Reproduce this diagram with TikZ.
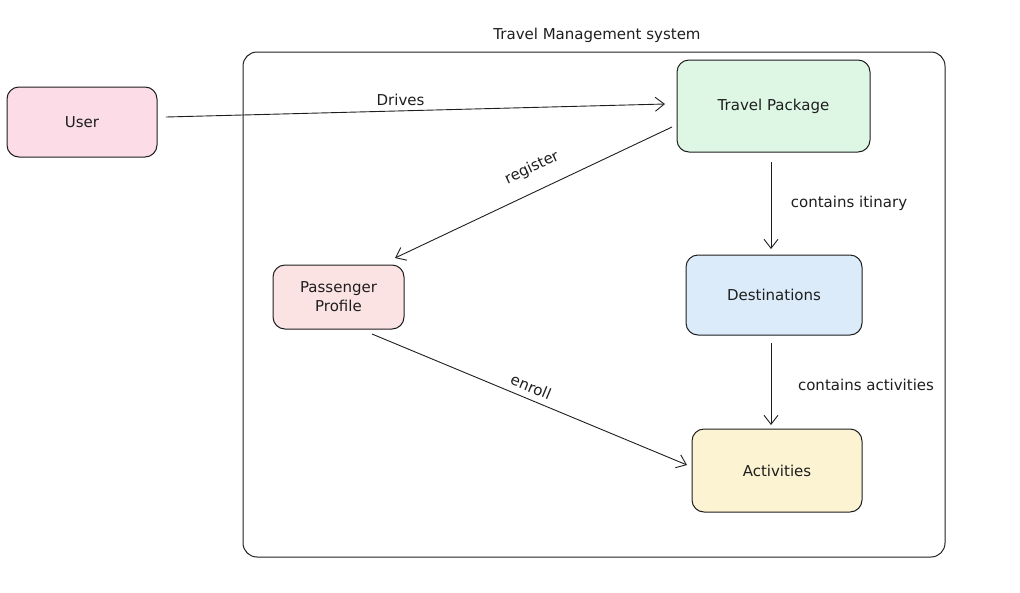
\documentclass[tikz,border=0pt]{standalone}
\usepackage{fontspec}
\setmainfont{DejaVu Sans}
\usetikzlibrary{arrows.meta}
\definecolor{pinkf}{HTML}{FCDCE6}
\definecolor{greenf}{HTML}{DDF7E4}
\definecolor{bluef}{HTML}{DCEBFA}
\definecolor{yellowf}{HTML}{FCF3D2}
\definecolor{rosef}{HTML}{FBE3E3}
\definecolor{ink}{HTML}{1E1E1E}
\tikzset{
  box/.style={draw=ink, line width=1pt, rounded corners=12pt, inner sep=0pt, align=center, font=\fontsize{15}{19}\selectfont, text=ink},
  conn/.style={draw=ink, line width=0.9pt, -{Straight Barb[length=9pt,width=14pt]}},
  lbl/.style={font=\fontsize{15}{18}\selectfont, text=ink, inner sep=1pt}
}
\begin{document}
\begin{tikzpicture}[x=1pt,y=-1pt]
\useasboundingbox (0,0) rectangle (1020,592);
\node[draw=ink, line width=1pt, rounded corners=14pt, minimum width=702pt, minimum height=505pt] (sys) at (594,304.5) {};
\node[lbl] (title) at (597,35) {Travel Management system};
\node[box, fill=pinkf, minimum width=150pt, minimum height=70pt] (user) at (82,122) {User};
\node[box, fill=greenf, minimum width=193pt, minimum height=92pt] (tp) at (773.5,106) {Travel Package};
\node[box, fill=bluef, minimum width=176pt, minimum height=80pt] (dest) at (774,295) {Destinations};
\node[box, fill=yellowf, minimum width=170pt, minimum height=83pt] (act) at (777,470.5) {Activities};
\node[box, fill=rosef, minimum width=131pt, minimum height=64pt] (pp) at (338.5,297) {Passenger\\Profile};
\coordinate (u1) at (166,117);
\coordinate (t1) at (665,104);
\draw[conn] (u1) -- (t1) node[lbl, pos=0.47, above=4pt] (l1) {Drives};
\coordinate (t2) at (672,127);
\coordinate (p1) at (395,258);
\draw[conn] (t2) -- (p1) node[lbl, pos=0.47, sloped, above=14pt] (l2) {register};
\coordinate (t3) at (771,162);
\coordinate (d1) at (771,249);
\draw[conn] (t3) -- (d1);
\node[lbl] (l3) at (849,203) {contains itinary};
\coordinate (d2) at (771,343);
\coordinate (a1) at (771,425);
\draw[conn] (d2) -- (a1);
\node[lbl] (l4) at (866,385) {contains activities};
\coordinate (p2) at (372,334);
\coordinate (a2) at (687,465);
\draw[conn] (p2) -- (a2) node[lbl, pos=0.49, sloped, above=5pt] (l5) {enroll};
\end{tikzpicture}
\end{document}
